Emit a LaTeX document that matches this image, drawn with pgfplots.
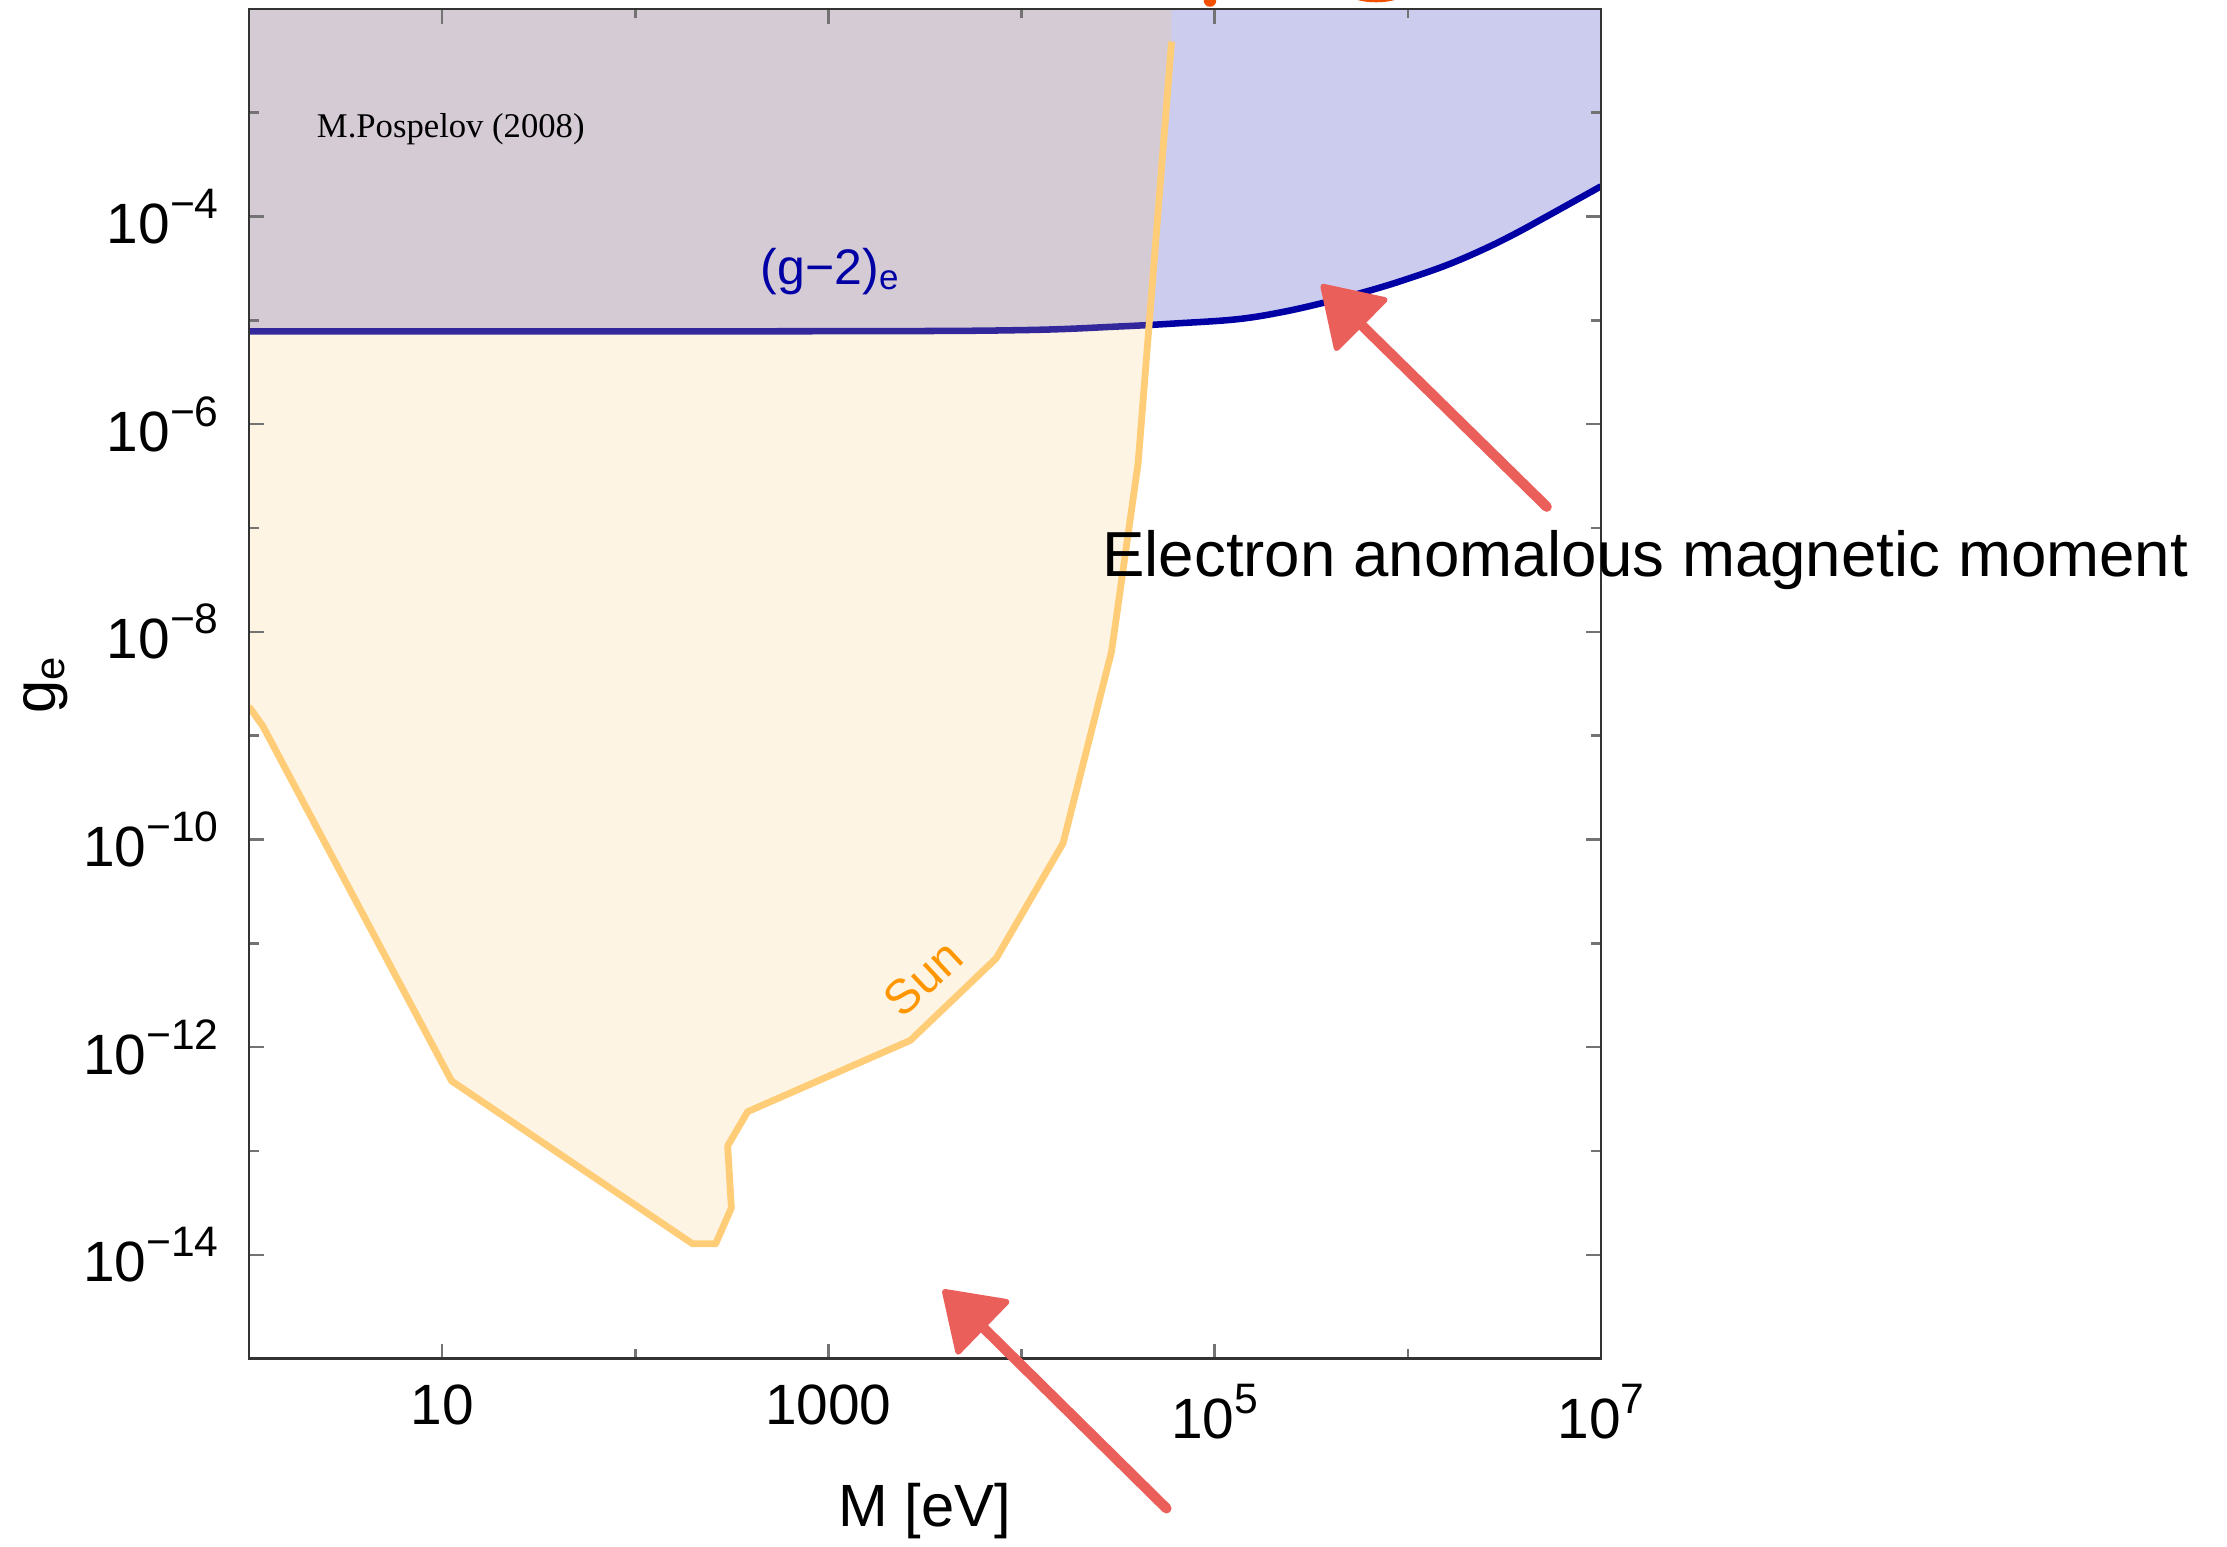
\documentclass[border=0pt]{standalone}
\usepackage{fontspec}
\setmainfont{Liberation Sans}
\newfontfamily\timesfont{Liberation Serif}
\usepackage{pgfplots}
\pgfplotsset{compat=1.18}
\usepackage{pgfplotstable}

\definecolor{bluefill}{RGB}{0,0,170}
\definecolor{blueline}{RGB}{0,0,165}
\definecolor{sunfill}{RGB}{250,200,115}
\definecolor{sunline}{RGB}{255,205,120}
\definecolor{sunlabel}{RGB}{255,150,0}
\definecolor{arrowred}{RGB}{235,95,90}
\definecolor{blob}{RGB}{240,80,0}

\newcommand{\sups}[1]{\raisebox{4.4pt}{\fontsize{7.5}{8}\selectfont #1}}

% (g-2)_e bound
\pgfplotstableread{
M g
1 7.83e-6
1000 7.85e-6
10000 8.04e-6
31620 8.71e-6
63100 9.33e-6
130300 1.023e-5
223900 1.20e-5
385500 1.51e-5
657700 1.97e-5
1000000 2.51e-5
1611000 3.43e-5
2512000 4.90e-5
3606000 6.84e-5
5012000 9.55e-5
7328000 1.413e-4
10000000 1.95e-4
}\gtwo

% Sun bound
\pgfplotstableread{
M g
1 1.90e-9
1.178 1.24e-9
11.2 4.72e-13
197.6 1.28e-14
261 1.28e-14
314.6 2.83e-14
301 1.12e-13
382 2.39e-13
2656 1.16e-12
7396 7.16e-12
16410 9.18e-11
29250 6.44e-9
40150 4.19e-7
59840 4.83e-3
}\sun

\begin{document}
\begin{tikzpicture}
\useasboundingbox (-43.825pt,-33.1pt) rectangle (348.175pt,239.15pt);
\begin{axis}[
  at={(0,0)}, anchor=south west,
  width=237.975pt, height=237.6pt, scale only axis,
  xmode=log, ymode=log,
  xmin=1, xmax=1e7, ymin=1e-15, ymax=1e-2,
  xtick={10,1000,100000,10000000},
  xticklabels={10,1000,10\sups{5},10\sups{7}},
  minor xtick={100,10000,1000000},
  ytick={1e-14,1e-12,1e-10,1e-8,1e-6,1e-4},
  yticklabels={10\sups{−14},10\sups{−12},10\sups{−10},10\sups{−8},10\sups{−6},10\sups{−4}},
  minor ytick={1e-15,1e-13,1e-11,1e-9,1e-7,1e-5,1e-3},
  tick align=inside,
  major tick length=2.6pt, minor tick length=1.7pt,
  tick style={black!55, line width=0.45pt},
  axis line style={black!80, line width=0.4pt},
  ticklabel style={font=\fontsize{10}{12}\selectfont},
  xticklabel style={yshift=-1pt},
  yticklabel style={xshift=-1.8pt},
  xlabel={M [eV]}, ylabel={g\textsubscript{e}},
  every axis x label/.style={at={(axis description cs:0.5,-0.1246)}, anchor=base, font=\fontsize{10.5}{12}\selectfont},
  every axis y label/.style={at={(axis description cs:-0.1504,0.5)}, rotate=90, anchor=center, font=\fontsize{10.5}{12}\selectfont},
  clip mode=individual,
  axis on top,
]
% blue (g-2) excluded region
\addplot[draw=none, fill=bluefill, fill opacity=0.2, smooth, tension=0.6] table {\gtwo}
  -- (axis cs:10000000,1e-1) -- (axis cs:1,1e-1) -- cycle;
\addplot[blueline, line width=1.15pt, smooth, tension=0.6] table {\gtwo};
% Sun excluded region
\addplot[draw=none, fill=sunfill, fill opacity=0.2] coordinates {
 (1,1e-1) (1,1.90e-9) (1.178,1.24e-9) (11.2,4.72e-13) (197.6,1.28e-14) (261,1.28e-14)
 (314.6,2.83e-14) (301,1.12e-13) (382,2.39e-13) (2656,1.16e-12) (7396,7.16e-12)
 (16410,9.18e-11) (29250,6.44e-9) (40150,4.19e-7) (59840,4.83e-3) (59840,1e-1)} -- cycle;
\addplot[sunline, line width=1.2pt, line join=round] table {\sun};

\node[anchor=base west, inner sep=0pt, font=\timesfont\fontsize{6.1}{7}\selectfont] at (axis cs:2.22,5.73e-4) {M.Pospelov (2008)};
\node[anchor=base west, inner sep=0pt, text=blueline, font=\fontsize{8.8}{10}\selectfont] at (axis cs:441.7,2.23e-5) {(g−2)\textsubscript{e}};
\node[rotate=43, text=sunlabel, font=\fontsize{8.5}{10}\selectfont] at (axis cs:3090,4.59e-12) {Sun};

\coordinate (etext) at (axis cs:1.695e7,3.40e-8);
\coordinate (a1tail) at (axis cs:5.24e6,1.60e-7);
\coordinate (a1join) at (axis cs:5.64e5,9.35e-6);
\coordinate (a1tip) at (axis cs:3.65e5,2.11e-5);
\coordinate (a1h1) at (axis cs:7.6e5,1.57e-5);
\coordinate (a1h2) at (axis cs:4.28e5,5.38e-6);
\coordinate (a2tail) at (axis cs:5.63e4,3.61e-17);
\coordinate (a2join) at (axis cs:6266,2.03e-15);
\coordinate (a2tip) at (axis cs:4009,4.40e-15);
\coordinate (a2h1) at (axis cs:8375,3.52e-15);
\coordinate (a2h2) at (axis cs:4699,1.16e-15);
\coordinate (b1) at (axis cs:9.46e4,1.2e-2);
\coordinate (b2) at (axis cs:6.86e5,1.36e-2);
\end{axis}

\node[anchor=base, inner sep=0pt, font=\fontsize{11.2}{13}\selectfont] at (etext) {Electron anomalous magnetic moment};

\draw[arrowred, line width=1.8pt, line cap=round] (a1tail) -- (a1join);
\filldraw[arrowred, line width=1pt, line join=round] (a1tip) -- (a1h1) -- (a1h2) -- cycle;
\draw[arrowred, line width=1.8pt, line cap=round] (a2tail) -- (a2join);
\filldraw[arrowred, line width=1pt, line join=round] (a2tip) -- (a2h1) -- (a2h2) -- cycle;

\fill[blob] (b1) circle[radius=1.1pt];
\fill[blob] (b2) ellipse[x radius=4.5pt, y radius=1.3pt];
\end{tikzpicture}
\end{document}
